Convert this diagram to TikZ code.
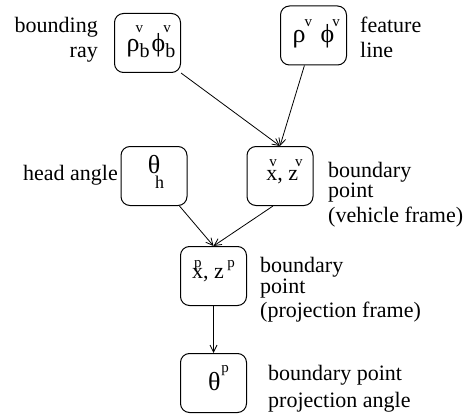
\documentclass[tikz,border=0pt]{standalone}
\usepackage{fontspec}
\setmainfont{Liberation Serif}
\newfontfamily\tnr{Liberation Serif}
\usetikzlibrary{arrows.meta}
\newcommand{\sm}[1]{{\fontsize{15}{15}\selectfont #1}}
\newcommand{\upr}[2]{\raisebox{#1}{\sm{#2}}}
\newcommand{\dnr}[2]{\raisebox{#1}{\fontsize{20}{20}\selectfont #2}}
\newcommand{\gk}[1]{{\fontsize{26}{26}\selectfont #1}}
\begin{document}
\begin{tikzpicture}[x=1pt,y=-1pt,
  box/.style={draw,line width=1pt,rounded corners=9pt,minimum width=66pt,minimum height=59pt,inner sep=0pt,font=\tnr\fontsize{22}{22}\selectfont},
  lbl/.style={inner sep=0pt,font=\tnr\fontsize{22}{22}\selectfont},
  conn/.style={line width=0.8pt,-{Straight Barb[length=7pt,width=7pt]}}]
\useasboundingbox (0,0) rectangle (468,417);
% boxes
\node[box,text height=18pt,text depth=0pt] (b1) at (147.5,43)
  {\hspace{7pt}\gk{ρ}\rlap{\kern-4pt\upr{19pt}{v}}\dnr{-6pt}{b}\hspace{2pt}\gk{ϕ}\rlap{\kern-2pt\upr{19pt}{v}}\dnr{-6pt}{b}};
\node[box,text height=15pt,text depth=0pt] (b2) at (313.5,35.5)
  {\gk{ρ}\rlap{\kern-1pt\upr{16pt}{v}}\hspace{15pt}\gk{ϕ}\rlap{\kern-2pt\upr{16pt}{v}}\hspace{11pt}};
\node[box,text height=0pt,text depth=6pt] (b3) at (154,176)
  {\gk{θ}\rlap{\kern-5pt\raisebox{-15pt}{\fontsize{18}{18}\selectfont h}}};
\node[box,text height=8pt,text depth=0pt] (b4) at (280,176)
  {\hspace{9pt}x\rlap{\kern-8pt\upr{14pt}{v}}, z\upr{14pt}{\kern-3pt v}};
\node[box,text height=4pt,text depth=0pt] (b5) at (213.5,276)
  {x\rlap{\kern-9pt\upr{11pt}{p}}, z\,\upr{11pt}{p}};
\node[box,text height=14pt,text depth=0pt] (b6) at (213.5,383)
  {\hspace{10pt}\gk{θ}\upr{18pt}{\kern1pt p}};
% labels
\node[lbl,anchor=base east] (lb1) at (98,33) {bounding};
\node[lbl,anchor=base east] (lb2) at (98,58) {ray};
\node[lbl,anchor=base west] (lf1) at (360,33) {feature};
\node[lbl,anchor=base west] (lf2) at (360,58) {line};
\node[lbl,anchor=base east] (lh) at (118,180) {head angle};
\node[lbl,anchor=base west] (lv1) at (328,177) {boundary};
\node[lbl,anchor=base west] (lv2) at (328,197) {point};
\node[lbl,anchor=base west] (lv3) at (328,222) {(vehicle frame)};
\node[lbl,anchor=base west] (lp1) at (260,272) {boundary};
\node[lbl,anchor=base west] (lp2) at (260,293) {point};
\node[lbl,anchor=base west] (lp3) at (260,317) {(projection frame)};
\node[lbl,anchor=base west] (la1) at (268,380) {boundary point};
\node[lbl,anchor=base west] (la2) at (268,407) {projection angle};
% connectors
\draw[conn] (b1.south east) -- (b4.north);
\draw[conn] (b2) -- (b4.north);
\draw[conn] (b3) -- (b5.north);
\draw[conn] ([xshift=-7pt]b4.south) -- (b5.north);
\draw[conn] (b5) -- (b6);
\end{tikzpicture}
\end{document}
